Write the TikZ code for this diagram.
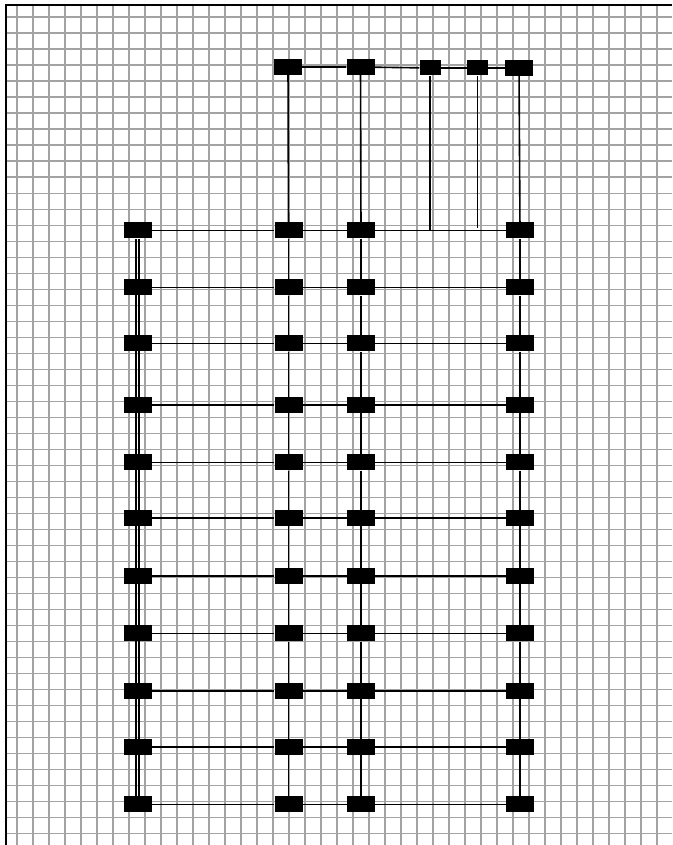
\documentclass[tikz,border=0pt]{standalone}
\begin{document}
\begin{tikzpicture}[x=1pt,y=-1pt,
    pad/.style={fill=black,minimum width=28pt,minimum height=16pt,inner sep=0pt},
    smallpad/.style={fill=black,minimum width=21pt,minimum height=15pt,inner sep=0pt},
    wire/.style={line width=1.6pt},
    gridline/.style={draw=gray!72,line width=1.6pt}]
    \useasboundingbox (0,0) rectangle (672,845);
    % background grid
    \foreach \k in {1,...,41} \draw [gridline] (0.7+16*\k,5) -- (0.7+16*\k,845);
    \foreach \k in {1,...,52} \draw [gridline] (5.8,1.3+16*\k) -- (672,1.3+16*\k);
    \draw [line width=2pt] (5.8,845) -- (5.8,5) -- (672,5);
    % top row
    \node [pad] (t1) at (288,67) {};
    \node [pad] (t2) at (360.5,67) {};
    \node [smallpad] (t3) at (430,68) {};
    \node [smallpad] (t4) at (477.5,68) {};
    \node [pad] (t5) at (519,68) {};
    % rows
    \foreach \y [count=\i] in {230.3,287.3,343.3,404.7,462.3,518,575.7,633.3,691,746.7,804.3} {
        \node [pad] (l\i) at (137.5,\y) {};
        \node [pad] (a\i) at (288.5,\y) {};
        \node [pad] (b\i) at (361,\y) {};
        \node [pad] (r\i) at (520,\y) {};
        \draw [wire] (l\i) -- (a\i) -- (b\i) -- (r\i);
    }
    \foreach \i [count=\j from 2] in {1,...,10} {
        \draw [wire] (a\i) -- (a\j);
        \draw [wire] (b\i) -- (b\j);
        \draw [wire] (r\i) -- (r\j);
    }
    \draw [wire] (t1) -- (t2) -- (t3) -- (t4) -- (t5);
    \draw [wire] (t1) -- (a1);
    \draw [wire] (t2) -- (b1);
    \draw [wire] (t5) -- (r1);
    \coordinate (j3) at (t3 |- b1);
    \coordinate (j4) at ([yshift=2pt]t4 |- b1);
    \draw [wire] (t3) -- (j3);
    \draw [wire] (t4) -- (j4);
    % double line on the left
    \draw [wire] ([xshift=-1.5pt]l1.south) -- ([xshift=-1.5pt]l11.north);
    \draw [wire] ([xshift=1.5pt]l1.south) -- ([xshift=1.5pt]l11.north);
\end{tikzpicture}
\end{document}
